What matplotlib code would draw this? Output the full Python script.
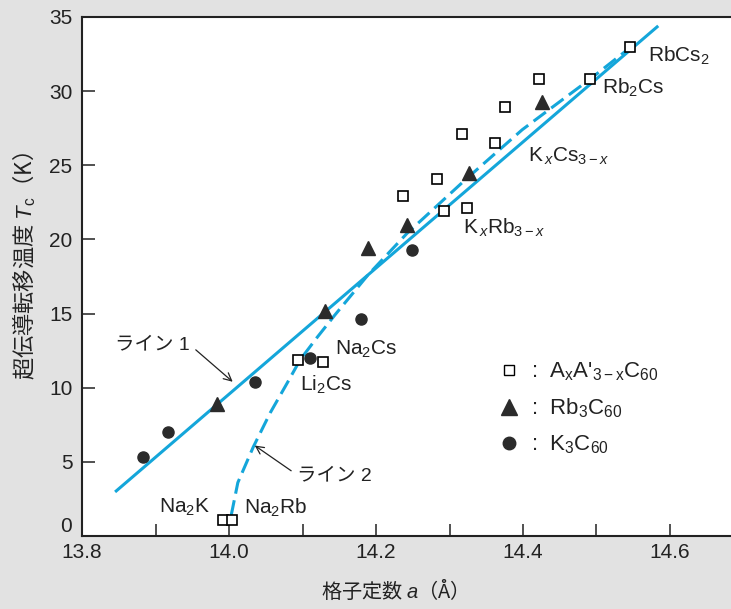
import matplotlib
matplotlib.use('Agg')
import matplotlib.pyplot as plt
from matplotlib.ticker import MultipleLocator
from matplotlib.lines import Line2D

plt.rcParams['font.family'] = ['Liberation Sans', 'Noto Sans CJK JP']
plt.rcParams['mathtext.fontset'] = 'custom'
plt.rcParams['mathtext.rm'] = 'Liberation Sans'
plt.rcParams['mathtext.it'] = 'Liberation Sans:italic'

# A_xA'_{3-x}C60 (open squares)
mixed_a = [14.546, 14.491, 14.422, 14.376, 14.317, 14.362, 14.283, 14.237,
           14.293, 14.324, 14.094, 14.128, 13.992, 14.004]
mixed_tc = [33.0, 30.8, 30.8, 28.9, 27.1, 26.5, 24.1, 22.9,
            21.9, 22.1, 11.9, 11.7, 1.1, 1.1]
# Rb3C60 (triangles)
rb_a = [14.426, 14.327, 14.242, 14.189, 14.131, 13.984]
rb_tc = [29.3, 24.5, 21.0, 19.4, 15.2, 8.9]
# K3C60 (circles)
k_a = [14.249, 14.180, 14.110, 14.035, 13.917, 13.883]
k_tc = [19.3, 14.6, 12.0, 10.4, 7.0, 5.3]
# line 1 (solid)
line1_a = [13.845, 14.584]
line1_tc = [2.97, 34.4]
# line 2 (dashed)
line2_a = [14.003, 14.012, 14.033, 14.056, 14.079, 14.097, 14.120, 14.144,
           14.169, 14.189, 14.242, 14.321, 14.399, 14.453, 14.491, 14.550]
line2_tc = [1.4, 3.6, 6.0, 8.3, 10.3, 11.9, 13.4, 14.9,
            16.4, 17.6, 20.4, 24.0, 27.4, 29.4, 30.8, 33.1]
y_ticks = [0, 5, 10, 15, 20, 25, 30, 35]

cyan = '#14a6da'
dark = '#2b2b2b'

fig = plt.figure(figsize=(7.31, 6.09), dpi=100, facecolor='#e2e2e2')
ax = fig.add_axes([0.1122, 0.1199, 0.8878, 0.8522])
ax.set_facecolor('white')

ax.plot(line1_a, line1_tc, color=cyan, lw=2.2, solid_capstyle='butt')
ax.plot(line2_a, line2_tc, color=cyan, lw=2.2, ls=(0, (5, 2.2)))

ax.plot(k_a, k_tc, 'o', ms=8, mfc=dark, mec=dark)
ax.plot(rb_a, rb_tc, '^', ms=10.5, mfc=dark, mec=dark)
ax.plot(mixed_a, mixed_tc, 's', ms=7.5, mfc='white', mec='black', mew=1.2)

ax.set_xlim(13.8, 14.683)
ax.set_ylim(0, 35)
ax.xaxis.set_major_locator(MultipleLocator(0.2))
ax.xaxis.set_minor_locator(MultipleLocator(0.1))
ax.set_yticks(y_ticks)
ax.xaxis.set_major_formatter(lambda v, p: f'{v:.1f}')
ax.tick_params(which='both', direction='in', length=9, width=1.1, color='#222')
ax.tick_params(axis='both', labelsize=15, labelcolor='#222')
ax.tick_params(axis='x', pad=5)
ax.tick_params(axis='y', pad=7)
ax.spines['right'].set_visible(False)
for s in ['left', 'bottom', 'top']:
    ax.spines[s].set_linewidth(1.5)
    ax.spines[s].set_color('#222')
# lift the "0" a little so it clears "13.8"
ax.yaxis.get_major_ticks()[0].label1.set_va('bottom')

ax.set_xlabel('格子定数 $a$（Å）', fontfamily='Noto Sans CJK JP', fontsize=14.5, color='#222')
ax.xaxis.set_label_coords(0.473, -0.083)
ax.set_ylabel('超伝導転移温度 $T_\\mathrm{c}$（K）', fontfamily='Noto Sans CJK JP', fontsize=16, color='#222')
ax.yaxis.set_label_coords(-0.068, 0.52)

# compound labels
lab = dict(fontsize=15, va='center', ha='left', color='#222')
ax.text(14.570, 32.4, 'RbCs$_2$', **lab)
ax.text(14.507, 30.2, 'Rb$_2$Cs', **lab)
ax.text(14.407, 25.6, 'K$_{\\,x}$Cs$_{3-x}$', **lab)
ax.text(14.318, 20.8, 'K$_{\\,x}$Rb$_{3-x}$', **lab)
ax.text(14.144, 12.6, 'Na$_2$Cs', **lab)
ax.text(14.097, 10.2, 'Li$_2$Cs', **lab)
ax.text(13.905, 1.9, 'Na$_2$K', **lab)
ax.text(14.020, 1.9, 'Na$_2$Rb', **lab)

arrow = dict(arrowstyle='->', color='#222', lw=0.9, shrinkA=3, shrinkB=0, mutation_scale=14)
ax.annotate('ライン 1', xy=(14.005, 10.4), xytext=(13.845, 12.9), fontsize=14,
            ha='left', va='center', color='#222',
            arrowprops=dict(arrow, relpos=(1, 0.5)))
ax.annotate('ライン 2', xy=(14.035, 6.1), xytext=(14.093, 4.05), fontsize=14,
            ha='left', va='center', color='#222',
            arrowprops=dict(arrow, relpos=(0, 0.55)))

handles = [
    Line2D([], [], marker='s', ls='none', ms=7, mfc='white', mec='black', mew=1.0),
    Line2D([], [], marker='^', ls='none', ms=11, mfc=dark, mec=dark),
    Line2D([], [], marker='o', ls='none', ms=9, mfc=dark, mec=dark),
]
labels = [":  A$_\\mathrm{x}$A'$_{3-\\mathrm{x}}$C$_{60}$",
          ':  Rb$_3$C$_{60}$',
          ':  K$_3$C$_{60}$']
leg = ax.legend(handles, labels, loc='upper left', bbox_to_anchor=(0.641, 0.338),
                frameon=False, fontsize=16, handlelength=1.0, handletextpad=0.5,
                labelspacing=0.6, borderpad=0, borderaxespad=0)
for t in leg.get_texts():
    t.set_color('#222')

fig.savefig('out.png', dpi=100, facecolor=fig.get_facecolor())
